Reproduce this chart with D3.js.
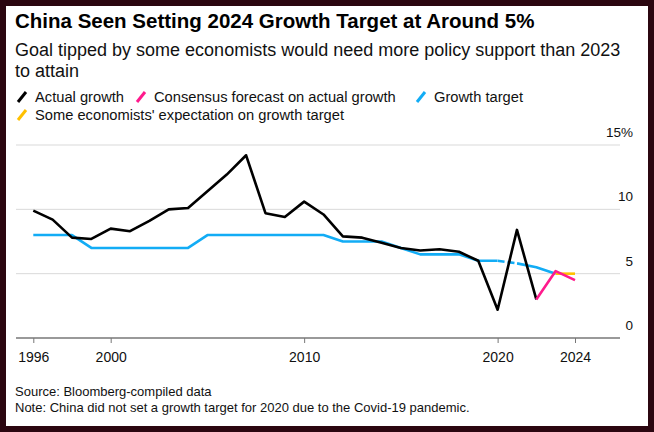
<!DOCTYPE html>
<html>
<head>
<meta charset="utf-8">
<script src="https://cdn.jsdelivr.net/npm/d3@7"></script>
<style>
  html, body { margin: 0; padding: 0; background: #2b0610; }
  svg { display: block; font-family: "Liberation Sans", Arial, sans-serif; }
</style>
</head>
<body>
<div id="chart-area"></div>
<script>
// data
var years = d3.range(1996, 2023);          // 1996 .. 2022
var actualGrowth = [9.9, 9.2, 7.8, 7.7, 8.5, 8.3, 9.1, 10.0, 10.1, 11.4, 12.7, 14.2,
                    9.7, 9.4, 10.6, 9.6, 7.9, 7.8, 7.4, 7.0, 6.8, 6.9, 6.7, 6.0,
                    2.2, 8.4, 3.0];
var consensusYears = [2022, 2023, 2024];
var consensusForecast = [3.0, 5.2, 4.5];
var targetYears = d3.range(1996, 2024);    // 1996 .. 2023
var growthTarget = [8, 8, 8, 7, 7, 7, 7, 7, 7, 8, 8, 8, 8, 8, 8, 8, 7.5, 7.5, 7.5,
                    7.0, 6.5, 6.5, 6.5, 6.0, 6.0, 5.8, 5.5, 5.0];
var dashedFrom = 2020, dashedTo = 2021;    // no target set for 2020
var expectationYears = [2023, 2024];
var expectation = [5.0, 5.0];
var xTicks = [1996, 2000, 2010, 2020, 2024];
var yTicks = [0, 5, 10, 15];

var legendItems = [
    { label: "Actual growth", color: "#000000", row: 0, x: 17 },
    { label: "Consensus forecast on actual growth", color: "#ff1a8c", row: 0, x: 136 },
    { label: "Growth target", color: "#12acf5", row: 0, x: 416 },
    { label: "Some economists' expectation on growth target", color: "#ffc000", row: 1, x: 17 }
];

var svgWidth = 654, svgHeight = 432;
var plotLeft = 16, plotRight = 620;

var svg = d3.select("#chart-area")
            .append("svg")
            .attr("width", svgWidth)
            .attr("height", svgHeight);

// white card inside the dark frame
svg.append("rect")
   .attr("x", 6).attr("y", 6)
   .attr("width", 642).attr("height", 420)
   .attr("fill", "#ffffff");

// headings
svg.append("text")
   .attr("x", 15).attr("y", 28)
   .attr("font-size", "20.5px")
   .attr("font-weight", "bold")
   .attr("fill", "#000")
   .text("China Seen Setting 2024 Growth Target at Around 5%");

svg.append("text")
   .attr("x", 15).attr("y", 56)
   .attr("font-size", "18px")
   .attr("fill", "#111")
   .text("Goal tipped by some economists would need more policy support than 2023");

svg.append("text")
   .attr("x", 15).attr("y", 77)
   .attr("font-size", "18px")
   .attr("fill", "#111")
   .text("to attain");

// legend
var legend = svg.selectAll(".legend")
                .data(legendItems)
                .enter()
                .append("g")
                .attr("class", "legend")
                .attr("transform", (d) => "translate(" + d.x + ", " + (97 + d.row * 18) + ")");

legend.append("line")
      .attr("x1", 1).attr("y1", 5)
      .attr("x2", 9).attr("y2", -5)
      .attr("stroke", (d) => d.color)
      .attr("stroke-width", 3);

legend.append("text")
      .attr("x", 18).attr("y", 5)
      .attr("font-size", "14.7px")
      .attr("fill", "#111")
      .text((d) => d.label);

// scales
var x = d3.scaleLinear()
          .domain([1996, 2024])
          .range([33.3, 575]);

var y = d3.scaleLinear()
          .domain([0, 15])
          .range([338, 145]);

// gridlines
svg.selectAll(".grid")
   .data(yTicks.filter((d) => d > 0))
   .enter()
   .append("line")
   .attr("class", "grid")
   .attr("x1", plotLeft).attr("x2", plotRight)
   .attr("y1", (d) => y(d)).attr("y2", (d) => y(d))
   .attr("stroke", "#d9d9d9")
   .attr("stroke-width", 1);

// y labels sit above their gridlines on the right
svg.selectAll(".ylabel")
   .data(yTicks)
   .enter()
   .append("text")
   .attr("class", "ylabel")
   .attr("x", 633)
   .attr("y", (d) => y(d) - 8)
   .attr("text-anchor", "end")
   .attr("font-size", "13.5px")
   .attr("fill", "#111")
   .text((d) => d === 15 ? d + "%" : d);

// x axis
var xAxisCall = d3.axisBottom(x)
                  .tickValues(xTicks)
                  .tickFormat(d3.format("d"))
                  .tickSize(5)
                  .tickPadding(9);

var xAxisGroup = svg.append("g")
                    .attr("transform", "translate(0," + y(0) + ")")
                    .call(xAxisCall);

xAxisGroup.select(".domain").remove();
xAxisGroup.selectAll(".tick line").attr("stroke", "#777");
xAxisGroup.selectAll("text")
          .attr("font-family", "Liberation Sans, Arial, sans-serif")
          .attr("font-size", "14px")
          .attr("fill", "#111");

svg.append("line")
   .attr("x1", plotLeft).attr("x2", plotRight)
   .attr("y1", y(0)).attr("y2", y(0))
   .attr("stroke", "#777")
   .attr("stroke-width", 1.5);

// series
var line = d3.line()
             .x((d) => x(d.year))
             .y((d) => y(d.value));

function zipSeries(xs, vs) {
    return xs.map((yr, i) => ({ year: yr, value: vs[i] }));
}

var targetData = zipSeries(targetYears, growthTarget);

function drawPath(data, color, dash) {
    svg.append("path")
       .datum(data)
       .attr("d", line)
       .attr("fill", "none")
       .attr("stroke", color)
       .attr("stroke-width", 2.6)
       .attr("stroke-linejoin", "round")
       .attr("stroke-dasharray", dash || null);
}

// solid target line with a dashed bridge over the missing 2020 target
drawPath(targetData.filter((d) => d.year <= dashedFrom), "#12acf5");
drawPath(targetData.filter((d) => d.year >= dashedTo), "#12acf5");
svg.append("path")
   .datum(targetData.filter((d) => d.year >= dashedFrom && d.year <= dashedTo))
   .attr("d", line)
   .attr("fill", "none")
   .attr("stroke", "#ffffff")
   .attr("stroke-width", 3);
drawPath(targetData.filter((d) => d.year >= dashedFrom && d.year <= dashedTo), "#12acf5", "7,3");
drawPath(zipSeries(expectationYears, expectation), "#ffc000");
drawPath(zipSeries(years, actualGrowth), "#000000");
drawPath(zipSeries(consensusYears, consensusForecast), "#ff1a8c");

// footer
svg.append("text")
   .attr("x", 15).attr("y", 396)
   .attr("font-size", "13px")
   .attr("fill", "#111")
   .text("Source: Bloomberg-compiled data");

svg.append("text")
   .attr("x", 15).attr("y", 412)
   .attr("font-size", "13px")
   .attr("fill", "#111")
   .text("Note: China did not set a growth target for 2020 due to the Covid-19 pandemic.");
</script>
</body>
</html>
